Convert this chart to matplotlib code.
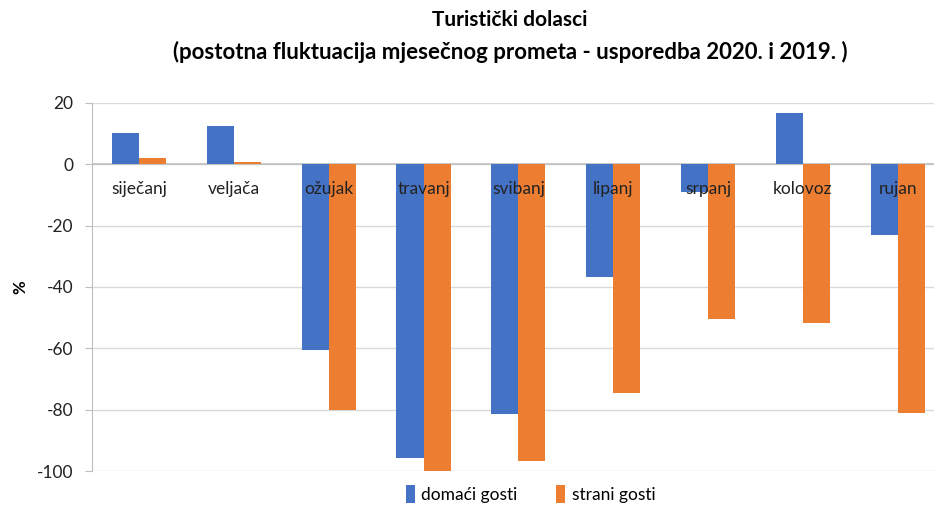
import numpy as np
import matplotlib.pyplot as plt

plt.rcParams['font.family'] = ['Lato', 'DejaVu Sans']

# mjeseci i vrijednosti (%)
mjeseci = ["siječanj", "veljača", "ožujak", "travanj", "svibanj",
           "lipanj", "srpanj", "kolovoz", "rujan"]
domaci = [10.2, 12.4, -60.5, -95.9, -81.3, -36.6, -9.2, 16.7, -23.2]
strani = [2.1, 0.6, -80.2, -100.0, -96.7, -74.6, -50.3, -51.6, -81.1]
yticks = [20, 0, -20, -40, -60, -80, -100]

fig = plt.figure(figsize=(9.34, 5.07), dpi=100)
ax = fig.add_axes([0.098, 0.071, 0.914, 0.726])

x = np.arange(len(mjeseci))
w = 0.285
ax.bar(x - w / 2, domaci, w, color='#4472C4', label='domaći gosti', zorder=3)
ax.bar(x + w / 2, strani, w, color='#ED7D31', label='strani gosti', zorder=3)

ax.set_xlim(-0.5, len(mjeseci) - 0.5)
ax.set_ylim(-100, 20)
ax.set_yticks(yticks)
ax.set_yticklabels([str(v) for v in yticks], fontsize=12.5, color='#222222')
ax.tick_params(axis='y', length=5, color='#BFBFBF', pad=8)
ax.set_xticks([])
ax.grid(axis='y', color='#D9D9D9', linewidth=1, zorder=0)
ax.axhline(0, color='#BFBFBF', linewidth=1.2, zorder=2)

for s in ['top', 'right', 'bottom']:
    ax.spines[s].set_visible(False)
ax.spines['left'].set_color('#BFBFBF')

# nazivi mjeseci ispod nulte linije
for i, m in enumerate(mjeseci):
    ax.text(i, -8.2, m, ha='center', va='center', fontsize=12.5,
            color='#222222', zorder=4)

ax.set_ylabel('%', fontsize=12, fontweight='bold', labelpad=6)

fig.text(0.546, 0.96, 'Turistički dolasci', ha='center', va='center',
         fontsize=15, fontweight='bold')
fig.text(0.546, 0.897,
         '(postotna fluktuacija mjesečnog prometa - usporedba 2020. i 2019. )',
         ha='center', va='center', fontsize=16, fontweight='bold')

fig.legend(loc='center', bbox_to_anchor=(0.568, 0.025), ncol=2, frameon=False,
           fontsize=12.5, handlelength=0.5, handleheight=1.2,
           columnspacing=2.2, handletextpad=0.4)

fig.savefig('out.png', dpi=100)
